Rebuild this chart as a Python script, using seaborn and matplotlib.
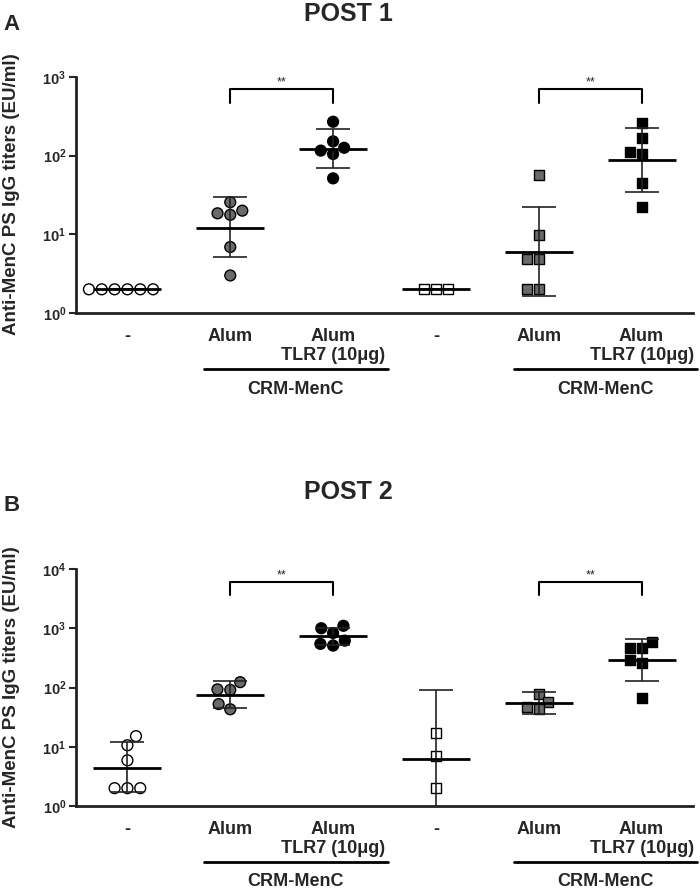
import pandas as pd
import seaborn as sns
import matplotlib.pyplot as plt
from matplotlib.ticker import FixedLocator, NullLocator

# groups in plotting order (first three: circles, last three: squares)
groups = ["ctrl_c", "alum_c", "tlr7_c", "ctrl_s", "alum_s", "tlr7_s"]
tick_labels = ["-", "Alum", "Alum\nTLR7 (10\u03bcg)", "-", "Alum", "Alum\nTLR7 (10\u03bcg)"]
fill = {"ctrl_c": "white", "alum_c": "#6a6a6a", "tlr7_c": "black",
        "ctrl_s": "white", "alum_s": "#6a6a6a", "tlr7_s": "black"}

# POST 1 titers (EU/ml)
p1_ctrl_c = [2, 2, 2, 2, 2, 2]
p1_alum_c = [20, 17.7, 18.5, 25.6, 6.9, 3.0]
p1_tlr7_c = [270, 152, 116, 105, 126, 51.5]
p1_ctrl_s = [2, 2, 2]
p1_alum_s = [56, 9.8, 4.8, 4.8, 2, 2]
p1_tlr7_s = [263, 167, 105, 112, 45.5, 22.5]
p1_gm = [2, 12.2, 122, 2, 6.0, 89]
p1_lo = [2, 5.1, 69, 2, 1.64, 35]
p1_hi = [2, 29.6, 218, 2, 22.5, 228]

# POST 2 titers (EU/ml)
p2_ctrl_c = [10.6, 15.1, 5.9, 2, 2, 2]
p2_alum_c = [93, 91, 123, 52.5, 42.9]
p2_tlr7_c = [1100, 1000, 830, 618, 510, 545]
p2_ctrl_s = [17.2, 7.0, 2.0]
p2_alum_s = [76.7, 57.5, 42.9, 47.3]
p2_tlr7_s = [582, 460, 466, 292, 257, 67]
p2_gm = [4.46, 74.7, 730, 6.2, 54, 292]
p2_lo = [1.7, 44.5, 527, 0.43, 35.6, 129]
p2_hi = [11.8, 130, 1025, 91, 83, 654]

sig_pairs = [(1, 2), (4, 5)]

sns.set_style("ticks")
plt.rcParams["font.family"] = ["Liberation Sans", "DejaVu Sans"]
plt.rcParams["mathtext.fontset"] = "custom"
plt.rcParams["mathtext.rm"] = "Liberation Sans"
plt.rcParams["mathtext.bf"] = "Liberation Sans:bold"


def make_df(series):
    rows = []
    for g, vals in zip(groups, series):
        rows += [(g, v) for v in vals]
    return pd.DataFrame(rows, columns=["group", "titer"])


def draw_panel(ax, df, gm, lo, hi, ytop, br_top, br_leg):
    circ = df[df["group"].isin(groups[:3])]
    sq = df[df["group"].isin(groups[3:])]
    sns.swarmplot(data=circ, x="group", y="titer", order=groups, hue="group",
                  palette=fill, marker="o", size=7.8, edgecolor="black",
                  linewidth=1, legend=False, log_scale=True, ax=ax)
    sns.swarmplot(data=sq, x="group", y="titer", order=groups, hue="group",
                  palette=fill, marker="s", size=7.2, edgecolor="black",
                  linewidth=1, legend=False, log_scale=True, ax=ax)

    # geometric mean with 95% CI
    for i in range(len(groups)):
        ax.vlines(i, lo[i], hi[i], color="#222222", lw=1.2, zorder=5)
        ax.hlines([lo[i], hi[i]], i - 0.165, i + 0.165, color="#222222", lw=1.2, zorder=5)
        ax.hlines(gm[i], i - 0.33, i + 0.33, color="black", lw=2, zorder=6)

    for a, b in sig_pairs:
        ax.plot([a, a, b, b], [br_leg, br_top, br_top, br_leg], color="black",
                lw=1.5, clip_on=False)
        ax.text((a + b) / 2, br_top * 1.02, "**", ha="center", va="bottom", fontsize=9)

    ax.set_yscale("log")
    ax.set_ylim(1, ytop)
    ax.set_xlim(-0.5, 5.5)
    decades = [10 ** k for k in range(len(str(int(ytop))))]
    ax.yaxis.set_major_locator(FixedLocator(decades))
    ax.yaxis.set_minor_locator(NullLocator())
    ax.set_yticklabels([r"$\mathbf{10^{%d}}$" % k for k in range(len(decades))])
    ax.set_xticks(range(len(groups)))
    ax.set_xticklabels(tick_labels, fontsize=13, fontweight="bold", linespacing=1.15)
    ax.tick_params(axis="y", length=5, width=1.5, pad=2, labelsize=10.5)
    ax.tick_params(axis="x", length=0, pad=11)
    ax.set_xlabel("")
    ax.set_ylabel("")
    sns.despine(ax=ax)
    for s in ["left", "bottom"]:
        ax.spines[s].set_linewidth(2)
        ax.spines[s].set_color("#222222")

    h = ax.get_position().height * 890
    trans = ax.get_xaxis_transform()
    for x0, x1 in [(0.74, 2.53), (3.76, 5.535)]:
        ax.plot([x0, x1], [-56 / h, -56 / h], transform=trans, clip_on=False,
                color="black", lw=2)
        ax.text((x0 + x1) / 2, -76 / h, "CRM-MenC", transform=trans, ha="center",
                va="center", fontsize=13, fontweight="bold")


fig = plt.figure(figsize=(7, 8.9), dpi=100)
axA = fig.add_axes([76 / 700, 1 - 313 / 890, 617 / 700, 236 / 890])
axB = fig.add_axes([76 / 700, 1 - 806 / 890, 617 / 700, 237 / 890])

draw_panel(axA, make_df([p1_ctrl_c, p1_alum_c, p1_tlr7_c, p1_ctrl_s, p1_alum_s, p1_tlr7_s]),
           p1_gm, p1_lo, p1_hi, 1000, 708, 468)
draw_panel(axB, make_df([p2_ctrl_c, p2_alum_c, p2_tlr7_c, p2_ctrl_s, p2_alum_s, p2_tlr7_s]),
           p2_gm, p2_lo, p2_hi, 10000, 5930, 3670)

ylab = "Anti-MenC PS IgG titers (EU/ml)"
fig.text(12 / 700, 1 - 194 / 890, ylab, rotation=90, ha="center", va="center",
         fontsize=13.5, fontweight="bold")
fig.text(12 / 700, 1 - 687 / 890, ylab, rotation=90, ha="center", va="center",
         fontsize=13.5, fontweight="bold")
fig.text(348 / 700, 1 - 14 / 890, "POST 1", ha="center", va="center",
         fontsize=18, fontweight="bold")
fig.text(348 / 700, 1 - 492 / 890, "POST 2", ha="center", va="center",
         fontsize=18, fontweight="bold")
fig.text(12 / 700, 1 - 24 / 890, "A", ha="center", va="center", fontsize=16, fontweight="bold")
fig.text(12 / 700, 1 - 505 / 890, "B", ha="center", va="center", fontsize=16, fontweight="bold")

fig.savefig("out.png", dpi=100)
